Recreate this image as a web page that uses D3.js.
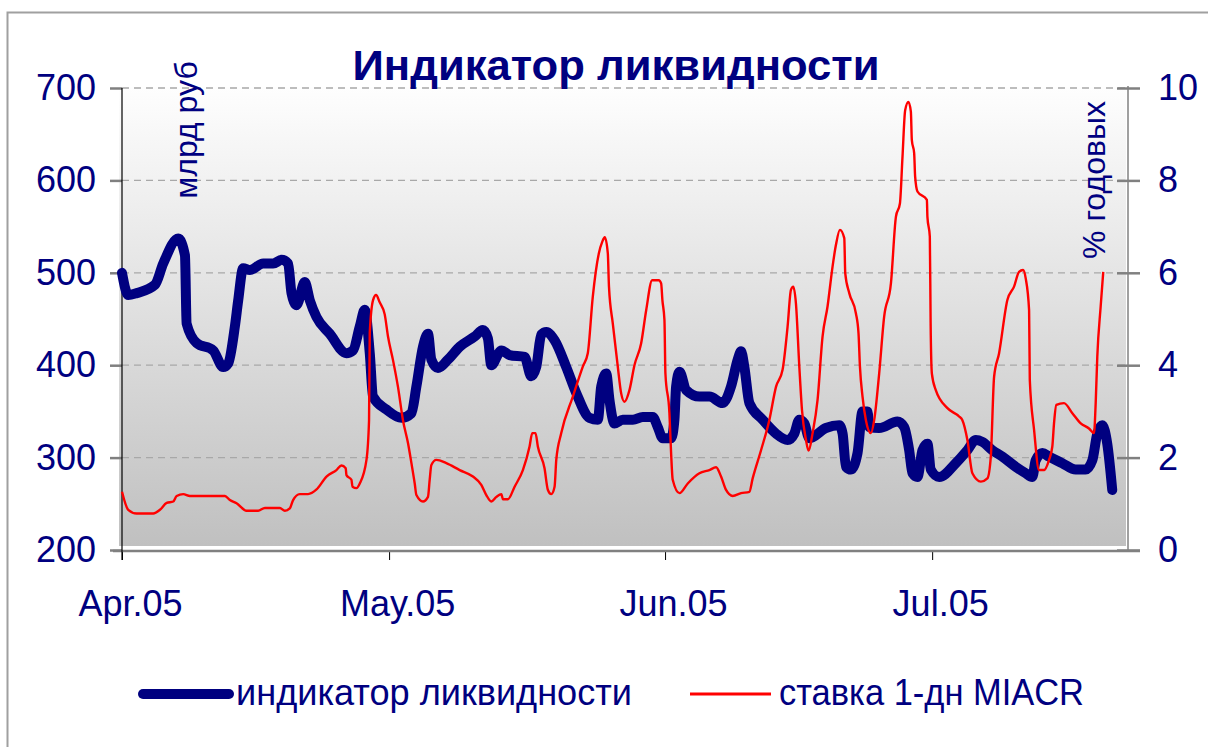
<!DOCTYPE html>
<html lang="ru">
<head>
  <meta charset="UTF-8">
  <title>Индикатор ликвидности</title>
  <script src="https://d3js.org/d3.v7.min.js"></script>
  <style>
    body { margin: 0; background: #fff; }
    text { font-family: "Liberation Sans", Arial, sans-serif; fill: #000080; }
  </style>
</head>
<body>
  <div id="viz"></div>

  <script>
    // Days counted from 1 Apr 2005
    const liqDay = [0,0.7,1.65,3.7,4.63,6.32,7.07,7.26,8.38,10.24,
      11.37,11.93,12.68,13.05,13.61,14.36,15.86,16.98,17.92,18.66,
      19.04,19.6,20.53,21.1,21.85,23.34,25.21,25.95,26.71,27.27,
      27.83,28.2,29.7,31.39,32.51,33.07,33.81,34.37,34.75,35.49,
      36.61,37.93,39.61,40.54,41.1,41.48,42.61,43.54,45.22,45.97,
      46.53,47.09,47.66,48.59,49.9,51.02,52.51,53.45,53.83,54.39,
      54.76,55.32,56.25,57.38,58.5,59.62,60.18,60.74,61.68,62.05,
      62.24,62.62,63.37,64.86,65.98,67.47,68.41,69.16,69.54,69.91,
      70.47,71.96,73.46,74.76,75.52,76.08,76.64,77.2,79.07,80.57,
      80.94,81.32,81.88,82.62,83.18,83.74,83.93,85.05,87.1,87.86,
      88.42,88.79,89.35,89.91,90.47,90.85,91.79,93.66,94.96,95.9,
      96.64,97.76,98.89,100.39,101.51,102.25,102.63,103.38,104.13,105.62,
      107.12,108.24,108.99,109.55,110.11,110.67,111.23];
    // индикатор ликвидности, млрд руб
    const liqVal = [500,476,478,487,510,537,519,445,424,416,
      398,402,442,470,505,503,510,510,514,510,
      478,465,490,470,452,434,413,416,442,460,
      413,366,352,343,348,377,420,434,406,397,
      406,420,431,438,429,400,416,411,409,388,
      398,433,436,427,398,370,343,341,377,391,
      362,337,341,341,344,344,333,321,321,341,
      377,393,373,366,366,359,377,406,415,398,
      359,341,326,319,326,341,337,321,332,335,
      326,290,287,305,350,350,333,332,339,333,
      308,283,279,308,315,287,279,294,308,319,
      317,308,301,290,283,279,297,305,301,294,
      287,287,297,326,335,315,265];

    const miacrDay = [0,0.7,1.65,3.51,4.26,5.02,5.76,6.14,6.88,7.63,
      11.56,12.12,12.87,13.99,15.29,16.05,17.73,18.29,18.85,19.22,
      19.97,20.9,21.85,22.97,24.09,24.65,25.13,25.21,25.77,25.89,
      26.34,26.71,27.46,27.75,27.83,28.2,28.54,28.95,29.51,29.88,
      30.44,31.0,31.56,32.13,32.51,32.88,33.07,33.81,34.37,34.56,
      34.75,35.31,36.43,37.93,39.42,40.36,40.92,41.48,42.05,42.61,
      42.79,43.35,44.1,45.03,45.78,46.08,46.45,46.71,47.46,47.84,
      48.22,48.59,48.78,49.34,50.64,51.76,52.32,52.88,53.56,53.94,
      54.23,54.57,54.7,55.13,55.69,56.07,56.44,57.0,57.56,58.31,
      58.88,59.55,60.29,60.56,60.7,60.93,61.04,61.49,61.68,61.86,
      62.62,63.55,64.86,65.98,66.73,67.29,67.85,68.6,69.54,70.47,
      70.84,71.78,72.71,73.46,74.2,74.76,75.14,75.4,75.7,76.08,
      76.38,76.83,77.12,77.57,78.13,78.69,79.25,79.81,80.19,80.64,
      81.13,81.24,81.69,82.44,82.73,82.89,83.18,83.56,84.12,84.49,
      85.05,85.61,86.37,86.93,87.38,87.67,87.97,88.34,88.61,88.72,
      88.98,89.09,89.35,90.41,90.47,90.74,90.83,90.97,91.41,92.72,
      94.03,94.4,94.96,95.52,96.47,97.21,97.59,97.96,98.52,99.45,
      100.2,100.76,101.21,101.51,101.89,101.97,102.45,103.01,103.57,104.13,
      104.5,104.69,104.95,105.81,106.75,107.69,108.62,109.18,109.37,109.55,
      109.93,110.22];
    // ставка 1-дн MIACR, % годовых
    const miacrVal = [1.26,0.87,0.79,0.79,0.87,1.02,1.05,1.17,1.21,1.17,
      1.17,1.08,1.01,0.85,0.85,0.91,0.91,0.85,0.9,1.08,
      1.21,1.21,1.31,1.59,1.73,1.83,1.77,1.62,1.52,1.37,
      1.34,1.44,1.95,2.81,4.7,5.41,5.52,5.36,5.1,4.62,
      4.11,3.53,2.81,2.31,1.88,1.44,1.19,1.05,1.15,1.52,
      1.84,1.95,1.88,1.73,1.59,1.41,1.19,1.05,1.15,1.21,
      1.1,1.1,1.37,1.73,2.24,2.53,2.53,2.24,1.77,1.3,
      1.21,1.37,1.95,2.53,3.32,3.97,4.26,5.48,6.42,6.67,
      6.77,6.42,5.7,4.9,3.97,3.39,3.21,3.46,4.0,4.47,
      5.19,5.84,5.84,5.77,5.41,4.98,3.82,2.96,2.09,1.52,
      1.23,1.44,1.66,1.73,1.79,1.59,1.3,1.17,1.23,1.26,
      1.55,2.16,2.81,3.53,3.9,4.83,5.63,5.7,5.34,3.97,
      3.03,2.38,2.15,2.53,3.25,4.62,5.27,6.13,6.6,6.93,
      6.75,5.99,5.56,5.12,4.69,3.97,3.32,2.81,2.53,2.81,
      3.82,5.05,5.77,7.21,7.5,8.51,9.52,9.7,9.49,8.87,
      8.59,8.08,7.76,7.58,7.21,6.78,4.91,3.82,3.46,3.07,
      2.89,2.81,2.38,1.66,1.48,1.55,2.02,3.75,4.26,5.41,
      5.7,6.02,6.06,5.88,5.19,3.68,2.6,1.73,1.73,1.95,
      2.24,2.74,3.14,3.18,2.96,2.74,2.63,2.53,3.18,4.18,
      5.27,6.02];

    const leftTicks = [200, 300, 400, 500, 600, 700];
    const rightTicks = [0, 2, 4, 6, 8, 10];
    const monthTicks = ["2005-04-01", "2005-05-01", "2005-06-01", "2005-07-01"];

    const W = 1208, H = 747;
    const start = Date.UTC(2005, 3, 1);
    const toDate = d => new Date(start + d * 864e5);

    const svg = d3.select('#viz').append('svg')
      .attr('width', W).attr('height', H);

    // chart frame
    svg.append('rect')
      .attr('x', 7.5).attr('y', 12.5).attr('width', 1260).attr('height', 800)
      .attr('fill', '#fff').attr('stroke', '#a0a0a0').attr('stroke-width', 2);

    // scales
    const x = d3.scaleUtc()
      .domain([new Date(start), new Date(Date.UTC(2005, 6, 23))])
      .range([122, 1128]);
    const yL = d3.scaleLinear().domain([200, 700]).range([550, 88]);
    const yR = d3.scaleLinear().domain([0, 10]).range([550, 88]);

    // plot area gradient
    const grad = svg.append('defs').append('linearGradient')
      .attr('id', 'bg').attr('x1', 0).attr('y1', 0).attr('x2', 0).attr('y2', 1);
    grad.append('stop').attr('offset', 0).attr('stop-color', '#fefefe');
    grad.append('stop').attr('offset', 1).attr('stop-color', '#c0c0c0');

    const [px0, px1] = x.range();
    svg.append('rect')
      .attr('x', px0 - 3).attr('y', yL(700) - 1)
      .attr('width', px1 - px0 + 1).attr('height', yL(200) - yL(700) - 3)
      .attr('fill', 'url(#bg)');

    // dashed grid
    svg.append('g').selectAll('line')
      .data(leftTicks.slice(1))
      .join('line')
        .attr('x1', px0).attr('x2', px1)
        .attr('y1', d => yL(d)).attr('y2', d => yL(d))
        .attr('stroke', '#a8a8a8').attr('stroke-width', 1.3)
        .attr('stroke-dasharray', '7,5');

    // left axis
    const gL = svg.append('g')
      .attr('transform', `translate(${px0},0)`)
      .call(d3.axisLeft(yL).tickValues(leftTicks).tickSize(12).tickPadding(14));
    gL.select('.domain').remove();
    gL.selectAll('.tick line').attr('stroke', '#808080').attr('stroke-width', 2.5);
    gL.selectAll('.tick text').attr('font-size', 36).attr('fill', '#000080');
    gL.attr('font-family', null);

    // right axis
    const gR = svg.append('g')
      .attr('transform', `translate(${px1},0)`)
      .call(d3.axisRight(yR).tickValues(rightTicks).tickSize(12).tickPadding(18));
    gR.select('.domain').remove();
    gR.selectAll('.tick line').attr('x1', -11)
      .attr('stroke', '#808080').attr('stroke-width', 2.5);
    gR.selectAll('.tick text').attr('font-size', 36).attr('fill', '#000080');
    gR.attr('font-family', null);
    svg.append('line')
      .attr('x1', px1).attr('x2', px1).attr('y1', yR(10) - 2).attr('y2', yR(0) + 1)
      .attr('stroke', '#808080').attr('stroke-width', 1.5);

    // bottom axis
    const gB = svg.append('g')
      .attr('transform', `translate(0,${yL(200) + 1})`)
      .call(d3.axisBottom(x)
        .tickValues(monthTicks.map(d => new Date(d + 'T00:00:00Z')))
        .tickFormat(d3.utcFormat('%b.%y'))
        .tickSize(9).tickPadding(30));
    gB.select('.domain').remove();
    gB.selectAll('.tick line').attr('stroke', '#000').attr('stroke-width', 1);
    gB.selectAll('.tick text').attr('font-size', 36).attr('fill', '#000080').attr('dx', 8);
    gB.attr('font-family', null);
    svg.append('line')
      .attr('x1', px0 - 9).attr('x2', px1 + 12)
      .attr('y1', yL(200) + 1).attr('y2', yL(200) + 1)
      .attr('stroke', '#808080').attr('stroke-width', 2.5);
    svg.append('line')
      .attr('x1', px0).attr('x2', px0).attr('y1', yL(700)).attr('y2', yL(200) + 10)
      .attr('stroke', '#000').attr('stroke-width', 1.2);

    // series
    const liq = d3.zip(liqDay, liqVal);
    const miacr = d3.zip(miacrDay, miacrVal);

    svg.append('path')
      .datum(liq)
      .attr('d', d3.line().x(d => x(toDate(d[0]))).y(d => yL(d[1])).curve(d3.curveMonotoneX))
      .attr('fill', 'none').attr('stroke', '#000080').attr('stroke-width', 10)
      .attr('stroke-linejoin', 'round').attr('stroke-linecap', 'round');

    svg.append('path')
      .datum(miacr)
      .attr('d', d3.line().x(d => x(toDate(d[0]))).y(d => yR(d[1])).curve(d3.curveMonotoneX))
      .attr('fill', 'none').attr('stroke', '#ff0000').attr('stroke-width', 2.4)
      .attr('stroke-linejoin', 'round');

    // titles
    svg.append('text')
      .attr('x', 616).attr('y', 80).attr('text-anchor', 'middle')
      .attr('font-size', 42).attr('font-weight', 'bold')
      .attr('textLength', 527).attr('lengthAdjust', 'spacingAndGlyphs')
      .text('Индикатор ликвидности');
    svg.append('text')
      .attr('transform', 'translate(197,130) rotate(-90)')
      .attr('text-anchor', 'middle').attr('font-size', 32)
      .text('млрд руб');
    svg.append('text')
      .attr('transform', 'translate(1105,180) rotate(-90)')
      .attr('text-anchor', 'middle').attr('font-size', 32)
      .text('% годовых');

    // legend
    const legend = [
      { name: 'индикатор ликвидности', color: '#000080', w: 10, x0: 143, x1: 229, tx: 236, len: 396 },
      { name: 'ставка 1-дн MIACR', color: '#ff0000', w: 3, x0: 690, x1: 771, tx: 779, len: 305 }
    ];
    const lg = svg.append('g').selectAll('g').data(legend).join('g');
    lg.append('line')
      .attr('x1', d => d.x0).attr('x2', d => d.x1).attr('y1', 694).attr('y2', 694)
      .attr('stroke', d => d.color).attr('stroke-width', d => d.w)
      .attr('stroke-linecap', d => d.w > 5 ? 'round' : 'butt');
    lg.append('text')
      .attr('x', d => d.tx).attr('y', 705).attr('font-size', 36)
      .attr('textLength', d => d.len).attr('lengthAdjust', 'spacingAndGlyphs')
      .text(d => d.name);
  </script>
</body>
</html>
